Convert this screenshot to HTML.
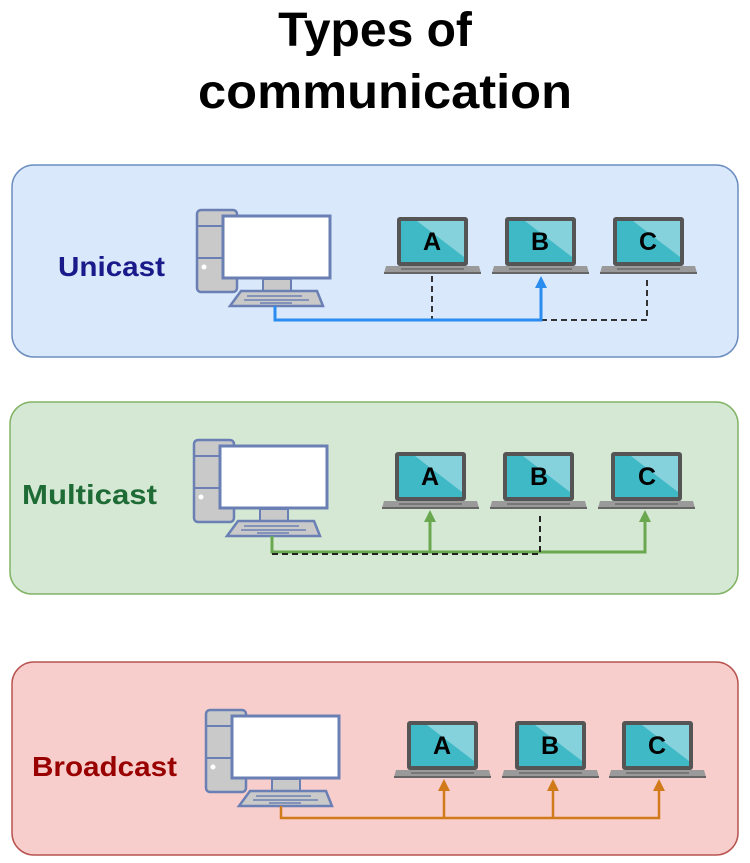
<!DOCTYPE html>
<html><head><meta charset="utf-8"><style>html,body{margin:0;padding:0;background:#fff}svg{display:block}</style></head>
<body>
<svg width="750" height="863" viewBox="0 0 750 863" xmlns="http://www.w3.org/2000/svg" font-family="Liberation Sans, sans-serif">
<defs>
<g id="pc">
  <rect x="0" y="0" width="40" height="82" rx="4" fill="#c9c9c9" stroke="#6a80b4" stroke-width="2.5"/>
  <line x1="0" y1="16" x2="26" y2="16" stroke="#6a80b4" stroke-width="2"/>
  <line x1="0" y1="48" x2="26" y2="48" stroke="#6a80b4" stroke-width="2"/>
  <circle cx="7" cy="57" r="2.5" fill="#fff"/>
  <rect x="26" y="6" width="107" height="62" fill="#fff" stroke="#6a80b4" stroke-width="3"/>
  <rect x="66" y="69" width="28" height="12" fill="#c9c9c9" stroke="#6a80b4" stroke-width="2"/>
  <polygon points="44,81 120,81 126,96 33,96" fill="#c9c9c9" stroke="#6a80b4" stroke-width="2.5"/>
  <line x1="50" y1="86" x2="105" y2="86" stroke="#6a80b4" stroke-width="1.5"/>
  <line x1="47" y1="90" x2="112" y2="90" stroke="#6a80b4" stroke-width="1.5"/>
  <line x1="63" y1="93" x2="95" y2="93" stroke="#6a80b4" stroke-width="1.5"/>
</g>
<g id="lap">
  <rect x="0" y="0" width="71" height="49" rx="3" fill="#555"/>
  <rect x="4" y="4" width="63" height="41" fill="#3fb9c6"/>
  <polygon points="20,4 67,4 67,40" fill="#86d2dc"/>
  <polygon points="-11,49 82,49 84,56 -13,56" fill="#9a9a9a"/>
  <rect x="-13" y="55" width="97" height="2" fill="#666"/>
  <rect x="4" y="51" width="63" height="2" fill="#777"/>
</g>
</defs>

<text x="375" y="46" text-anchor="middle" font-size="48" font-weight="bold" fill="#000">Types of</text>
<text x="385" y="108" text-anchor="middle" font-size="48" font-weight="bold" fill="#000" textLength="374" lengthAdjust="spacingAndGlyphs">communication</text>

<!-- Unicast -->
<rect x="12" y="165" width="726" height="192" rx="22" fill="#dae8fc" stroke="#6c8ebf" stroke-width="1.5"/>
<text x="58" y="276" font-size="28" font-weight="bold" fill="#1a1a8a" textLength="107" lengthAdjust="spacingAndGlyphs">Unicast</text>
<use href="#pc" x="197" y="210"/>
<use href="#lap" x="397" y="217"/>
<use href="#lap" x="505" y="217"/>
<use href="#lap" x="613" y="217"/>
<g font-size="25" font-weight="bold" text-anchor="middle" fill="#000">
<text x="432" y="250">A</text><text x="540" y="250">B</text><text x="648" y="250">C</text></g>
<path d="M432,276 V320 M541,320 H647 V276" fill="none" stroke="#333" stroke-width="2" stroke-dasharray="6,4"/>
<path d="M275,306 V320 H541 V284" fill="none" stroke="#2b8cf0" stroke-width="3"/>
<polygon points="541,276 535,288 547,288" fill="#2b8cf0"/>

<!-- Multicast -->
<rect x="10" y="402" width="728" height="192" rx="22" fill="#d5e8d4" stroke="#82b366" stroke-width="1.5"/>
<text x="22" y="504" font-size="28" font-weight="bold" fill="#1e6b35" textLength="135" lengthAdjust="spacingAndGlyphs">Multicast</text>
<use href="#pc" x="194" y="440"/>
<use href="#lap" x="395" y="452"/>
<use href="#lap" x="503" y="452"/>
<use href="#lap" x="611" y="452"/>
<g font-size="25" font-weight="bold" text-anchor="middle" fill="#000">
<text x="430" y="485">A</text><text x="539" y="485">B</text><text x="647" y="485">C</text></g>
<path d="M272,536 V552 H645 V520 M430,552 V520" fill="none" stroke="#6aa84f" stroke-width="3"/>
<polygon points="430,510 424,522 436,522" fill="#6aa84f"/>
<polygon points="645,510 639,522 651,522" fill="#6aa84f"/>
<path d="M272,554 H540 V515" fill="none" stroke="#222" stroke-width="2" stroke-dasharray="6,4"/>

<!-- Broadcast -->
<rect x="12" y="662" width="726" height="193" rx="22" fill="#f8cecc" stroke="#b85450" stroke-width="1.5"/>
<text x="32" y="776" font-size="28" font-weight="bold" fill="#990000" textLength="145" lengthAdjust="spacingAndGlyphs">Broadcast</text>
<use href="#pc" x="206" y="710"/>
<use href="#lap" x="407" y="721"/>
<use href="#lap" x="515" y="721"/>
<use href="#lap" x="622" y="721"/>
<g font-size="25" font-weight="bold" text-anchor="middle" fill="#000">
<text x="442" y="754">A</text><text x="550" y="754">B</text><text x="657" y="754">C</text></g>
<path d="M281,806 V818 H659 V788 M444,818 V788 M553,818 V788" fill="none" stroke="#d07a1a" stroke-width="2.5"/>
<polygon points="444,779 438,791 450,791" fill="#d07a1a"/>
<polygon points="553,779 547,791 559,791" fill="#d07a1a"/>
<polygon points="659,779 653,791 665,791" fill="#d07a1a"/>
</svg>
</body></html>
